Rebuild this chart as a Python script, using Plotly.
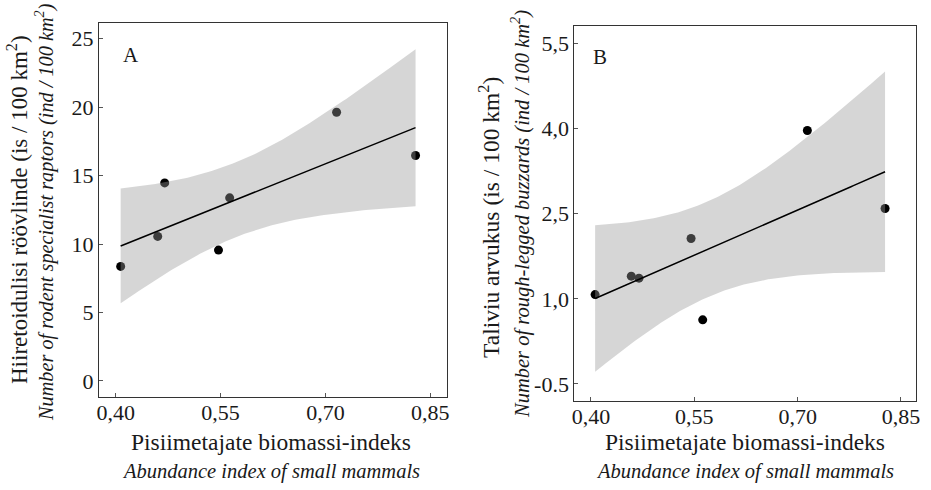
import numpy as np
import plotly.graph_objects as go

# ---- data ----
x_a = [0.407, 0.460, 0.470, 0.547, 0.563, 0.716, 0.829]
y_a = [8.37, 10.56, 14.47, 9.56, 13.38, 19.63, 16.47]
x_b = [0.406, 0.4585, 0.4697, 0.5453, 0.5622, 0.7141, 0.8269]
y_b = [1.076, 1.40, 1.365, 2.064, 0.630, 3.968, 2.593]

x_tickvals = [0.40, 0.55, 0.70, 0.85]
x_ticktext = ["0,40", "0,55", "0,70", "0,85"]
ya_tickvals = [0, 5, 10, 15, 20, 25]
ya_ticktext = ["0", "5", "10", "15", "20", "25"]
yb_tickvals = [-0.5, 1.0, 2.5, 4.0, 5.5]
yb_ticktext = ["-0.5", "1,0", "2,5", "4,0", "5,5"]

T_CRIT = 2.570582  # Student t, 0.975 quantile, df = 5


def lm_band(x, y, n=120):
    """OLS fit with 95% confidence band (as geom_smooth(method='lm'))."""
    x = np.asarray(x, float)
    y = np.asarray(y, float)
    b, a = np.polyfit(x, y, 1)
    xs = np.linspace(x.min(), x.max(), n)
    fit = a + b * xs
    res = y - (a + b * x)
    s = np.sqrt((res ** 2).sum() / (len(x) - 2))
    sxx = ((x - x.mean()) ** 2).sum()
    se = s * np.sqrt(1.0 / len(x) + (xs - x.mean()) ** 2 / sxx)
    return xs, fit, fit - T_CRIT * se, fit + T_CRIT * se


FONT = "Liberation Serif"
TXT = "#1a1a1a"

fig = go.Figure()

for xd, yd, xa, ya in [(x_a, y_a, "x", "y"), (x_b, y_b, "x2", "y2")]:
    xs, fit, lo, hi = lm_band(xd, yd)
    fig.add_trace(go.Scatter(x=xd, y=yd, mode="markers", xaxis=xa, yaxis=ya,
                             marker=dict(color="black", size=9),
                             showlegend=False, hoverinfo="x+y"))
    fig.add_trace(go.Scatter(x=np.concatenate([xs, xs[::-1]]),
                             y=np.concatenate([hi, lo[::-1]]),
                             mode="lines", fill="toself",
                             fillcolor="rgba(153,153,153,0.4)",
                             line=dict(width=0), xaxis=xa, yaxis=ya,
                             showlegend=False, hoverinfo="skip"))
    fig.add_trace(go.Scatter(x=xs, y=fit, mode="lines", xaxis=xa, yaxis=ya,
                             line=dict(color="black", width=1.5),
                             showlegend=False, hoverinfo="skip"))

axis_common = dict(showline=True, mirror=True, linecolor="#333333", linewidth=1,
                   ticks="inside", ticklen=4, tickcolor="#555555",
                   showgrid=False, zeroline=False, automargin=False,
                   tickfont=dict(family=FONT, size=22, color=TXT))

fig.update_layout(
    width=931, height=490,
    margin=dict(l=0, r=0, t=0, b=0),
    paper_bgcolor="white", plot_bgcolor="white",
    xaxis=dict(axis_common, domain=[99 / 931, 447 / 931], range=[0.376, 0.874],
               tickvals=x_tickvals, ticktext=x_ticktext, anchor="y",
               ticklabelstandoff=-4),
    yaxis=dict(axis_common, domain=[1 - 397 / 490, 1 - 23 / 490], range=[-1.17, 26.15],
               tickvals=ya_tickvals, ticktext=ya_ticktext, anchor="x"),
    xaxis2=dict(axis_common, domain=[574.3 / 931, 916 / 931], range=[0.3758, 0.8718],
                tickvals=x_tickvals, ticktext=x_ticktext, anchor="y2",
                ticklabelstandoff=-4),
    yaxis2=dict(axis_common, domain=[1 - 401 / 490, 1 - 26 / 490], range=[-0.80, 5.81],
                tickvals=yb_tickvals, ticktext=yb_ticktext, anchor="x2"),
)

ann = []


def add_text(text, x, y, size=21, angle=0, italic=False):
    if italic:
        text = "<i>" + text + "</i>"
    ann.append(dict(text=text, x=x / 931, y=1 - y / 490, xref="paper", yref="paper",
                    showarrow=False, textangle=angle, xanchor="center", yanchor="middle",
                    font=dict(family=FONT, size=size, color=TXT)))


# panel letters
add_text("A", 131, 55, size=21)
add_text("B", 600, 57, size=21)

# x titles
for cx in (271, 745):
    add_text("Pisiimetajate biomassi-indeks", cx, 442, size=23.5)
    add_text("Abundance index of small mammals", cx, 471, size=20.5, italic=True)

# y titles panel A
add_text("Hiiretoidulisi röövlinde (is / 100 km<sup>2</sup>)", 17, 210, size=23, angle=-90)
add_text("Number of rodent specialist raptors (ind / 100 km<sup>2</sup>)", 44, 212,
         size=20.3, angle=-90, italic=True)
# y titles panel B
add_text("Taliviu arvukus (is / 100 km<sup>2</sup>)", 489, 218, size=23.5, angle=-90)
add_text("Number of rough-legged buzzards (ind / 100 km<sup>2</sup>)", 520, 214,
         size=20.5, angle=-90, italic=True)

fig.update_layout(annotations=ann)
fig.write_html("out.html", config={"displayModeBar": False},
               post_script="document.body.style.margin='0px';")
